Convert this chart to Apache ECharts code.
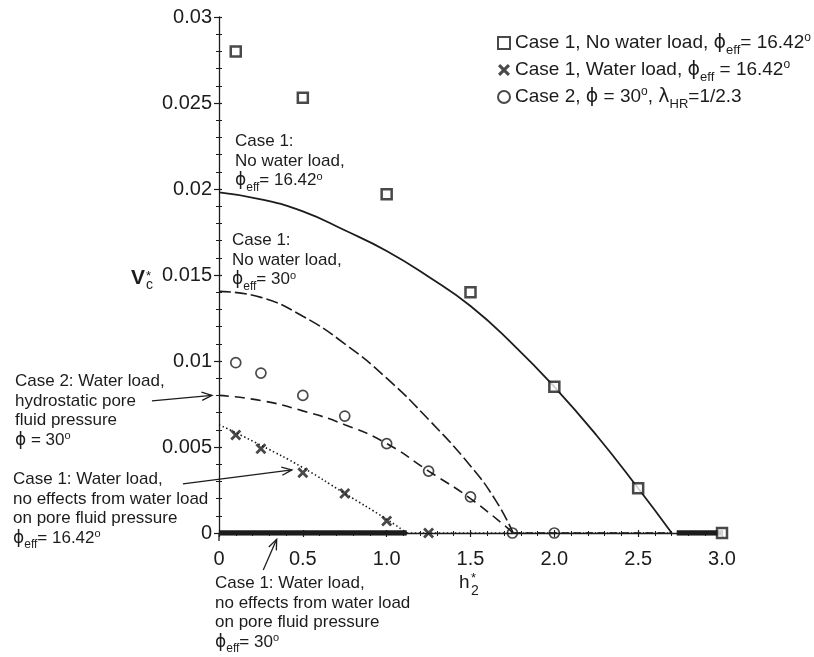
<!DOCTYPE html>
<html>
<head>
<meta charset="utf-8">
<script src="https://cdn.jsdelivr.net/npm/echarts@6/dist/echarts.min.js"></script>
<style>
html,body{margin:0;padding:0;background:#fff;}
#chart{width:814px;height:657px;}
</style>
</head>
<body>
<div id="chart"></div>
<script>
// ---------- data ----------
const xTicks = [0, 0.5, 1.0, 1.5, 2.0, 2.5, 3.0];
const yTicks = [0, 0.005, 0.01, 0.015, 0.02, 0.025, 0.03];

// markers
const sqX = [0.1, 0.5, 1.0, 1.5, 2.0, 2.5, 3.0];
const sqY = [0.0280, 0.0253, 0.0197, 0.0140, 0.0085, 0.0026, 0];
const crossX = [0.1, 0.25, 0.5, 0.75, 1.0, 1.25];
const crossY = [0.0057, 0.0049, 0.0035, 0.0023, 0.0007, 0];
const circX = [0.1, 0.25, 0.5, 0.75, 1.0, 1.25, 1.5, 1.75, 2.0];
const circY = [0.0099, 0.0093, 0.0080, 0.0068, 0.0052, 0.0036, 0.0021, 0, 0];

// analytic curves
const noWater16X = [0, 0.25, 0.5, 0.75, 1.0, 1.25, 1.5, 1.75, 2.0, 2.25, 2.5, 2.7];
const noWater16Y = [0.0198, 0.0194, 0.0187, 0.0176, 0.0164, 0.0149, 0.0132, 0.0110, 0.0085, 0.0057, 0.0026, 0];
const noWater30X = [0, 0.25, 0.5, 0.75, 1.0, 1.25, 1.5, 1.65, 1.755];
const noWater30Y = [0.01405, 0.0137, 0.0126, 0.0110, 0.0090, 0.0066, 0.0039, 0.0019, 0];
const case2X = [0, 0.25, 0.5, 0.75, 1.0, 1.25, 1.5, 1.755];
const case2Y = [0.0080, 0.0077, 0.0071, 0.0063, 0.0052, 0.0036, 0.0020, 0];
const water16X = [0, 0.25, 0.5, 0.75, 1.0, 1.12];
const water16Y = [0.0063, 0.0051, 0.0038, 0.0023, 0.0008, 0];

// zero-valued ranges
const zeroDottedX = [1.12, 2.7];
const zeroDashedX = [1.755, 2.7];
const thickLeftX = [0, 1.12];
const thickRightX = [2.73, 3.0];

// legend labels
const legendNames = [
  'Case 1, No water load, ϕeff= 16.42°',
  'Case 1, Water load, ϕeff = 16.42°',
  'Case 2, ϕ = 30°, λHR=1/2.3'
];
const legendRich = [
  'Case 1, No water load, {g|ϕ}{sub|eff}= 16.42{sup|o}',
  'Case 1, Water load, {g|ϕ}{sub|eff} = 16.42{sup|o}',
  'Case 2, {g|ϕ} = 30{sup|o}, {g|λ}{sub|HR}=1/2.3'
];

// annotation texts and arrows (arrows in data units)
const notes = [
  {text: 'Case 1:\nNo water load,\n{g|ϕ}{sub|eff}= 16.42{sup|o}', x: 235, y: 132},
  {text: 'Case 1:\nNo water load,\n{g|ϕ}{sub|eff}= 30{sup|o}', x: 232, y: 231},
  {text: 'Case 2: Water load,\nhydrostatic pore\nfluid pressure\n{g|ϕ} = 30{sup|o}', x: 15, y: 372},
  {text: 'Case 1: Water load,\nno effects from water load\non pore fluid pressure\n{g|ϕ}{sub|eff}= 16.42{sup|o}', x: 13, y: 470},
  {text: 'Case 1: Water load,\nno effects from water load\non pore fluid pressure\n{g|ϕ}{sub|eff}= 30{sup|o}', x: 215, y: 574}
];
const arrows = [
  {from: [-0.40, 0.00768], to: [-0.042, 0.0080]},
  {from: [-0.215, 0.00285], to: [0.435, 0.00367]},
  {from: [0.264, -0.00215], to: [0.344, -0.00037]}
];

// ---------- chart ----------
const INK = '#1c1c1c';
const FONT = '"Liberation Sans", Arial, sans-serif';
const zip = (xs, ys) => xs.map((x, i) => [x, ys[i]]);
const zeros = xs => xs.map(x => [x, 0]);

const chart = echarts.init(document.getElementById('chart'), null, {renderer: 'canvas'});

const xBase = {
  type: 'value', min: 0, max: 3, interval: 0.5, position: 'bottom', offset: 8,
  splitLine: {show: false}
};
const yBase = {
  type: 'value', min: 0, max: 0.03, interval: 0.005, position: 'left',
  splitLine: {show: false}
};

const crossPath = 'path://M0,1.8 L1.8,0 L5,3.2 L8.2,0 L10,1.8 L6.8,5 L10,8.2 L8.2,10 L5,6.8 L1.8,10 L0,8.2 L3.2,5 Z';

const lineSeries = (name, data, style, extra) => Object.assign({
  name, type: 'line', data, symbol: 'none', silent: true,
  xAxisIndex: 0, yAxisIndex: 0, lineStyle: Object.assign({color: INK}, style), z: 2
}, extra || {});

const option = {
  animation: false,
  backgroundColor: '#fff',
  textStyle: {fontFamily: FONT},
  grid: {left: 219, right: 92, top: 17, bottom: 124, containLabel: false},
  xAxis: [
    Object.assign({}, xBase, {
      axisLine: {show: true, lineStyle: {color: INK, width: 1.3}},
      axisTick: {show: true, inside: false, length: 4, lineStyle: {color: INK, width: 1.2}},
      minorTick: {show: true, splitNumber: 5, length: 3, lineStyle: {color: INK, width: 1}},
      axisLabel: {
        show: true, margin: 8, fontSize: 20, color: INK, fontFamily: FONT,
        formatter: v => (v === 0 ? '0' : v.toFixed(1))
      }
    }),
    Object.assign({}, xBase, {
      axisLine: {show: false},
      axisTick: {show: true, inside: true, length: 3, lineStyle: {color: INK, width: 1.2}},
      minorTick: {show: true, splitNumber: 5, length: 2, lineStyle: {color: INK, width: 1}},
      axisLabel: {show: false}
    })
  ],
  yAxis: [
    Object.assign({}, yBase, {
      axisLine: {show: true, lineStyle: {color: INK, width: 1.3}},
      axisTick: {show: true, inside: false, length: 5, lineStyle: {color: INK, width: 1.2}},
      minorTick: {show: true, splitNumber: 5, length: 3, lineStyle: {color: INK, width: 1}},
      axisLabel: {
        show: true, margin: 7, fontSize: 20, color: INK, fontFamily: FONT,
        formatter: v => (v === 0 ? '0' : String(parseFloat(v.toFixed(4))))
      }
    }),
    Object.assign({}, yBase, {
      axisLine: {show: false},
      axisTick: {show: true, inside: true, length: 3, lineStyle: {color: INK, width: 1.2}},
      minorTick: {show: true, splitNumber: 5, length: 3, lineStyle: {color: INK, width: 1}},
      axisLabel: {show: false}
    })
  ],
  legend: {
    orient: 'vertical', left: 492, top: 27, itemGap: 2,
    itemWidth: 12, itemHeight: 12, itemTextGap: 5,
    data: legendNames,
    selectedMode: false,
    formatter: name => legendRich[legendNames.indexOf(name)],
    textStyle: {
      fontSize: 19, color: INK, fontFamily: FONT, lineHeight: 22,
      rich: {
        g: {fontSize: 19, lineHeight: 22, color: INK, fontFamily: 'DejaVu Sans'},
        sub: {fontSize: 13, lineHeight: 13, verticalAlign: 'bottom', color: INK, padding: [0, 0, -3, 0]},
        sup: {fontSize: 12, lineHeight: 12, verticalAlign: 'top', color: INK}
      }
    }
  },
  series: [
    // thick zero bars
    lineSeries('thickLeft', zeros(thickLeftX), {width: 5.5, type: 'solid'}),
    lineSeries('thickRight', zeros(thickRightX), {width: 5.5, type: 'solid'}),
    // curves
    lineSeries('noWater16', zip(noWater16X, noWater16Y), {width: 1.8, type: 'solid'}, {smooth: 0.5}),
    lineSeries('noWater30', zip(noWater30X, noWater30Y), {width: 1.6, type: [12, 4]}, {smooth: 0.5}),
    lineSeries('case2', zip(case2X, case2Y), {width: 1.6, type: [10, 6]}, {smooth: 0.5}),
    lineSeries('water16', zip(water16X, water16Y), {width: 1.6, type: [1.5, 2.5], cap: 'butt'}, {smooth: 0.5}),
    lineSeries('zeroDotted', zeros(zeroDottedX), {width: 1.6, type: [1.5, 2.5]}),
    lineSeries('zeroDashed', zeros(zeroDashedX), {width: 1.6, type: [8, 4]}),
    // markers
    {
      name: legendNames[0], type: 'scatter', data: zip(sqX, sqY), symbol: 'rect', symbolSize: 10,
      itemStyle: {color: '#fff', borderColor: INK, borderWidth: 2.5}, z: 5, silent: true
    },
    {
      name: legendNames[1], type: 'scatter', data: zip(crossX, crossY), symbol: crossPath, symbolSize: 11,
      itemStyle: {color: INK, borderWidth: 0}, z: 5, silent: true
    },
    {
      name: legendNames[2], type: 'scatter', data: zip(circX, circY), symbol: 'circle', symbolSize: 10,
      itemStyle: {color: 'rgba(255,255,255,0)', borderColor: INK, borderWidth: 1.7}, z: 5, silent: true
    }
  ]
};
chart.setOption(option);

// ---------- annotations (positioned through the chart's own scales) ----------
const P = v => chart.convertToPixel({gridIndex: 0}, v);
const richNote = {
  g: {fontSize: 17, lineHeight: 19.5, fill: INK, fontFamily: 'DejaVu Sans'},
  sub: {fontSize: 12, lineHeight: 12, verticalAlign: 'bottom', fill: INK, fontFamily: FONT, padding: [0, 0, -3, 0]},
  sup: {fontSize: 11, lineHeight: 11, verticalAlign: 'top', fill: INK, fontFamily: FONT}
};
const graphics = [];
notes.forEach(n => {
  graphics.push({
    type: 'text', left: n.x, top: n.y, silent: true,
    style: {text: n.text, fontSize: 17, fontFamily: FONT, fill: INK, lineHeight: 19.5, rich: richNote}
  });
});
arrows.forEach(a => {
  const s = P(a.from), t = P(a.to);
  const dx = t[0] - s[0], dy = t[1] - s[1], len = Math.hypot(dx, dy);
  const ux = dx / len, uy = dy / len, L = 11, ang = 22 * Math.PI / 180;
  const rot = (x, y, th) => [x * Math.cos(th) - y * Math.sin(th), x * Math.sin(th) + y * Math.cos(th)];
  const r1 = rot(-ux, -uy, ang), r2 = rot(-ux, -uy, -ang);
  graphics.push({type: 'line', silent: true, z: 10, shape: {x1: s[0], y1: s[1], x2: t[0], y2: t[1]},
    style: {stroke: INK, lineWidth: 1.3}});
  graphics.push({type: 'polyline', silent: true, z: 10,
    shape: {points: [[t[0] + r1[0] * L, t[1] + r1[1] * L], t, [t[0] + r2[0] * L, t[1] + r2[1] * L]]},
    style: {stroke: INK, lineWidth: 1.3, fill: null}});
});
// extend the y-axis line down to the offset x-axis
const o = P([0, 0]);
graphics.push({type: 'line', silent: true, shape: {x1: o[0], y1: o[1], x2: o[0], y2: o[1] + 8},
  style: {stroke: INK, lineWidth: 1.3}});
// axis names
graphics.push({type: 'text', left: 131, top: 268, silent: true,
  style: {text: 'V', fontSize: 21, fontWeight: 'bold', fontFamily: FONT, fill: INK}});
graphics.push({type: 'text', left: 146, top: 270, silent: true,
  style: {text: '*', fontSize: 13, fontFamily: FONT, fill: INK}});
graphics.push({type: 'text', left: 146, top: 278, silent: true,
  style: {text: 'c', fontSize: 14, fontFamily: FONT, fill: INK}});
graphics.push({type: 'text', left: 459, top: 573, silent: true,
  style: {text: 'h', fontSize: 19, fontFamily: FONT, fill: INK}});
graphics.push({type: 'text', left: 471, top: 572, silent: true,
  style: {text: '*', fontSize: 13, fontFamily: FONT, fill: INK}});
graphics.push({type: 'text', left: 471, top: 584, silent: true,
  style: {text: '2', fontSize: 14, fontFamily: FONT, fill: INK}});

chart.setOption({graphic: graphics});
</script>
</body>
</html>
